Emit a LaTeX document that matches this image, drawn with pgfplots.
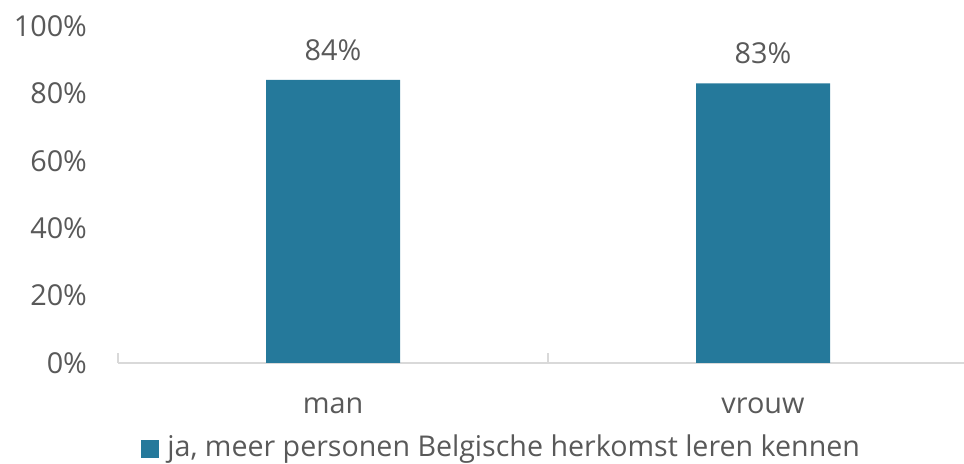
\documentclass[border=0pt]{standalone}
\usepackage{fontspec}
\setmainfont{Open Sans}
\usepackage{pgfplots}
\pgfplotsset{compat=1.18}
\definecolor{barblue}{RGB}{37,121,155}
\definecolor{txt}{RGB}{89,89,89}
\definecolor{grid}{RGB}{235,235,235}
\definecolor{axl}{RGB}{217,217,217}
\begin{document}
\begin{tikzpicture}
\useasboundingbox (-59pt,-50.5pt) rectangle (423pt,181.5pt);
\begin{axis}[
  at={(0,0)}, anchor=south west,
  scale only axis, width=423pt, height=168.5pt,
  xmin=-0.5, xmax=1.4674, ymin=0, ymax=100,
  axis x line*=bottom, axis y line=none,
  x axis line style={axl, line width=0.8pt, -},
  xtick={-0.5,0.5,1.5}, xticklabels={},
  xmajorgrids=false,
  major tick length=5pt,
  xtick style={axl, line width=0.8pt},
  xtick pos=bottom, xtick align=inside,
  extra x ticks={0,1}, extra x tick labels={man,vrouw},
  extra x tick style={grid=none, major tick length=0pt, xticklabel style={yshift=-14pt}},
  ytick={0,20,40,60,80,100}, yticklabels={},
  ymajorgrids, grid style={grid, line width=0.8pt},
  ticklabel style={font=\fontsize{14.4}{17}\selectfont, text=txt},
  /pgf/number format/assume math mode=true,
  nodes near coords={\pgfmathprintnumber{\pgfplotspointmeta}\%},
  nodes near coords style={font=\fontsize{14.4}{17}\selectfont, text=txt, yshift=6pt},
  clip=false,
]
\addplot[ybar, bar width=67pt, fill=barblue, draw=none] coordinates {(0,84) (1,83)};
\pgfplotsinvokeforeach{0,20,40,60,80,100}{
  \node[anchor=east, font=\fontsize{14.4}{17}\selectfont, text=txt] at (axis cs:-0.5,#1) [xshift=-12pt] {#1\%};
}
\end{axis}
\fill[barblue] (11.5pt,-47.5pt) rectangle (20.5pt,-38.5pt);
\node[anchor=west, font=\fontsize{14.3}{17}\selectfont, text=txt, inner sep=0pt] at (24.5pt,-43pt) {ja, meer personen Belgische herkomst leren kennen};
\end{tikzpicture}
\end{document}
